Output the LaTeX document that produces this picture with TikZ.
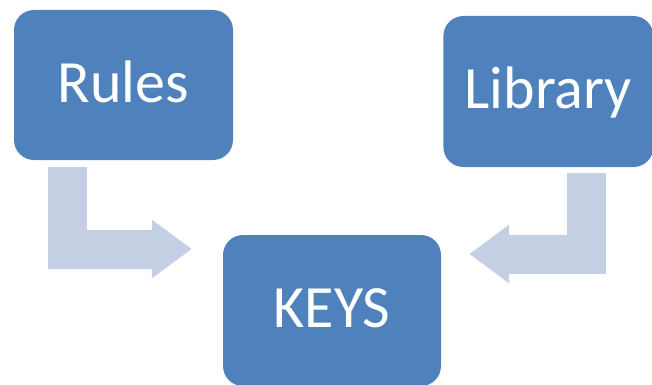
\documentclass[tikz,border=0pt]{standalone}
\usepackage{fontspec}
\setsansfont{Carlito}
\usepackage{xcolor}
\usepackage{tikz}
\usetikzlibrary{arrows.meta,positioning}
\definecolor{boxblue}{HTML}{4F81BD}
\definecolor{arrowgrey}{HTML}{C5CFE3}
\tikzset{
  blockbox/.style={fill=boxblue, rounded corners=20pt, text=white, align=center,
    minimum width=218pt, minimum height=151pt, inner sep=0pt,
    text height=34pt, text depth=0pt, font=\sffamily\fontsize{60pt}{60pt}\selectfont},
  bentarrow/.style={draw=arrowgrey, line width=39pt, line join=miter,
    -{Triangle[length=40pt,width=56pt]}},
}

\begin{document}
\begin{tikzpicture}[x=1pt,y=1pt]
\useasboundingbox (0,0) rectangle (652,384);
\node[blockbox, minimum width=219pt, minimum height=150pt] (rules) at (123.5,299) {Rules};
\node[blockbox, minimum width=210pt, right=210pt of rules, yshift=-6.5pt] (library) {Library};
\node[blockbox] (keys) at (332,73.5) {KEYS};
\draw[bentarrow] ([xshift=-56.5pt,yshift=-7pt]rules.south) |- ([xshift=-31pt,yshift=61.5pt]keys.west);
\draw[bentarrow] ([xshift=38pt,yshift=-5.5pt]library.south) |- ([xshift=28pt,yshift=56.5pt]keys.east);
\end{tikzpicture}
\end{document}
